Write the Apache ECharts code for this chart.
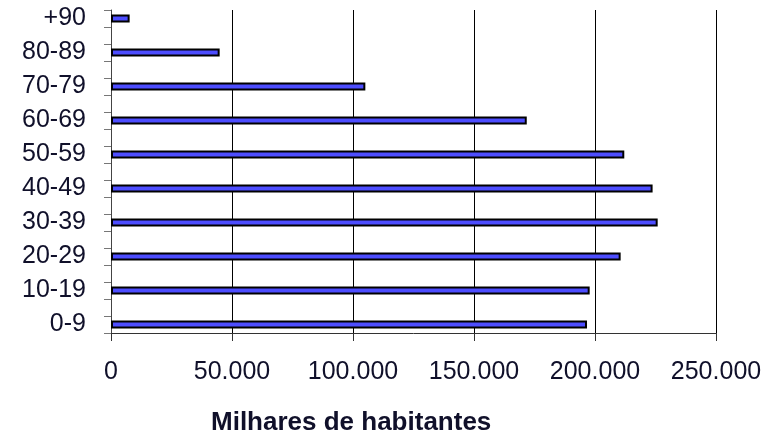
<!DOCTYPE html>
<html>
<head>
<meta charset="utf-8">
<script src="https://cdn.jsdelivr.net/npm/echarts@6/dist/echarts.min.js"></script>
<style>
  html, body { margin: 0; padding: 0; background: #fff; }
  #chart { width: 782px; height: 436px; }
</style>
</head>
<body>
<div id="chart"></div>
<script>
// age groups, bottom to top
const ageGroups = ["0-9", "10-19", "20-29", "30-39", "40-49", "50-59", "60-69", "70-79", "80-89", "+90"];
// population (habitantes) per age group
const population = [196700, 197800, 210600, 225900, 223800, 212100, 171800, 105100, 44900, 7700];
const xTicks = [0, 50000, 100000, 150000, 200000, 250000];

// the original axis has an empty slot between every two groups
const slots = [];
const slotValues = [];
ageGroups.forEach((g, i) => {
  if (i > 0) {
    slots.push("");
    slotValues.push("-");
  }
  slots.push(g);
  slotValues.push(population[i]);
});

const textColor = "#10102a";
var myChart = echarts.init(document.getElementById("chart"));

myChart.setOption({
  animation: false,
  title: {
    text: "Milhares de habitantes",
    left: 211,
    top: 410,
    padding: 0,
    textStyle: {
      fontFamily: "Liberation Sans",
      fontWeight: "bold",
      fontSize: 26,
      color: textColor,
    },
  },
  grid: {
    left: 111,
    right: 66,
    top: 10,
    bottom: 103,
  },
  xAxis: {
    type: "value",
    min: xTicks[0],
    max: xTicks[xTicks.length - 1],
    interval: xTicks[1] - xTicks[0],
    axisLine: { show: true, lineStyle: { color: "#333", width: 1 } },
    axisTick: { show: true, length: 8, lineStyle: { color: "#333" } },
    splitLine: { show: true, lineStyle: { color: "#000", width: 1 } },
    axisLabel: {
      margin: 27,
      fontFamily: "Liberation Sans",
      fontSize: 25,
      color: textColor,
      formatter: function (value) {
        return value.toString().replace(/\B(?=(\d{3})+(?!\d))/g, ".");
      },
    },
  },
  yAxis: {
    type: "category",
    data: slots,
    axisLine: { show: true, lineStyle: { color: "#444", width: 1 } },
    axisTick: { show: true, length: 7, interval: 0, lineStyle: { color: "#777" } },
    splitLine: { show: false },
    axisLabel: {
      interval: 0,
      margin: 25,
      fontFamily: "Liberation Sans",
      fontSize: 25,
      color: textColor,
    },
  },
  series: [
    {
      name: "Habitantes",
      type: "bar",
      barWidth: 8,
      data: slotValues,
      itemStyle: {
        color: "#4d4dff",
        borderColor: "#000",
        borderWidth: 2,
      },
    },
  ],
});
</script>
</body>
</html>
